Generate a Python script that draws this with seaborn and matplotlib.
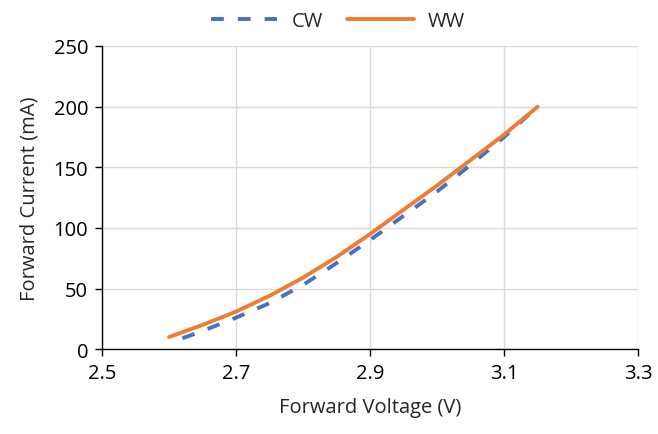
import numpy as np
import matplotlib.pyplot as plt
import pandas as pd
import seaborn as sns

# values
cw_v = [2.62, 2.65, 2.70, 2.75, 2.80, 2.85, 2.90, 2.95, 3.00, 3.05, 3.10, 3.15]
cw_i = [9, 15, 26, 38, 53, 71, 90, 110, 130, 152, 175, 200]
ww_v = [2.60, 2.65, 2.70, 2.75, 2.80, 2.85, 2.90, 2.95, 3.00, 3.05, 3.10, 3.15]
ww_i = [10, 20, 31, 44, 59, 76, 95, 115, 135, 156, 177, 200]

x_ticks = [2.5, 2.7, 2.9, 3.1, 3.3]
y_ticks = [0, 50, 100, 150, 200, 250]

sns.set_style("white")
plt.rcParams['font.family'] = ['Open Sans', 'DejaVu Sans']

fig = plt.figure(figsize=(6.58, 4.35), dpi=100)
ax = fig.add_axes([0.155, 0.195, 0.815, 0.697])

cw = pd.DataFrame({'v': cw_v, 'i': cw_i})
ww = pd.DataFrame({'v': ww_v, 'i': ww_i})
sns.lineplot(data=cw, x='v', y='i', ax=ax, color='#4472C4', linewidth=2.8,
             label='CW', zorder=3)
ax.lines[-1].set_dashes((3.3, 3.6))
sns.lineplot(data=ww, x='v', y='i', ax=ax, color='#ED7D31', linewidth=2.8,
             label='WW', zorder=4)

ax.set_xlim(2.5, 3.3)
ax.set_ylim(0, 250)
ax.set_xticks(x_ticks)
ax.set_yticks(y_ticks)
ax.grid(True, color='#D9D9D9', linewidth=1)
ax.set_axisbelow(True)
for s in ['top', 'right']:
    ax.spines[s].set_visible(False)
for s in ['left', 'bottom']:
    ax.spines[s].set_color('#000000')
    ax.spines[s].set_linewidth(1)
ax.tick_params(axis='both', direction='out', length=5, width=1, color='#000000',
               labelsize=14.5, labelcolor='#000000', left=True, bottom=True, pad=5)
ax.set_xlabel('Forward Voltage (V)', fontsize=14.5, labelpad=10)
ax.set_ylabel('Forward Current (mA)', fontsize=14.5, labelpad=10)

ax.legend(loc='upper center', bbox_to_anchor=(0.44, 1.175), ncol=2, frameon=False,
          fontsize=14.5, handlelength=3.3, columnspacing=1.2, handletextpad=0.7)

fig.savefig('out.png', dpi=100)
